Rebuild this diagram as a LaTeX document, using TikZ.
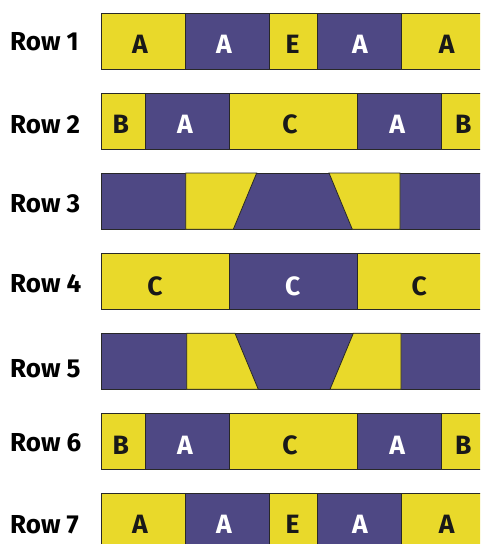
\documentclass[tikz,border=0pt]{standalone}
\usepackage{fontspec}
\newfontfamily\rowfont{Fira Sans}
\definecolor{yel}{RGB}{233,217,42}
\definecolor{pur}{RGB}{78,72,132}
\definecolor{edge}{RGB}{40,40,40}
\tikzset{
	yblk/.style={fill=yel, draw=edge, line width=0.8pt},
	pblk/.style={fill=pur, draw=edge, line width=0.8pt},
	rowlbl/.style={anchor=base west, inner sep=0pt, font=\rowfont\bfseries\fontsize{26}{27}\selectfont},
	dk/.style={anchor=base, inner sep=0pt, text=black!90, font=\rowfont\bfseries\fontsize{26.5}{27}\selectfont},
	lt/.style={dk, text=white}}

\begin{document}
\begin{tikzpicture}[x=1pt, y=-1pt]
		\useasboundingbox (0,0) rectangle (480,544);
		\clip (0,0) rectangle (480,544);
		
		% row labels
		\node[rowlbl] (l1) at (10,50) {Row 1};
		\node[rowlbl] (l2) at (10,133) {Row 2};
		\node[rowlbl] (l3) at (10,212) {Row 3};
		\node[rowlbl] (l4) at (10,292) {Row 4};
		\node[rowlbl] (l5) at (10,377) {Row 5};
		\node[rowlbl] (l6) at (10,451) {Row 6};
		\node[rowlbl] (l7) at (10,533) {Row 7};
		
		% row 1
		\draw[yblk] (101,13) rectangle (185,69);
		\draw[pblk] (185,13) rectangle (269.3,69);
		\draw[yblk] (269.3,13) rectangle (317.3,69);
		\draw[pblk] (317.3,13) rectangle (401.7,69);
		\draw[yblk] (401.7,13) rectangle (500,69);
		\node[dk] (r1a) at (140,53) {A};
		\node[lt] (r1b) at (224,53) {A};
		\node[dk] (r1c) at (292.7,53) {E};
		\node[lt] (r1d) at (360,53) {A};
		\node[dk] (r1e) at (446.7,53) {A};
		
		% row 2
		\draw[yblk] (101,93) rectangle (145,149);
		\draw[pblk] (145,93) rectangle (229.3,149);
		\draw[yblk] (229.3,93) rectangle (357.7,149);
		\draw[pblk] (357.7,93) rectangle (441.7,149);
		\draw[yblk] (441.7,93) rectangle (500,149);
		\node[dk] (r2a) at (120.7,133) {B};
		\node[lt] (r2b) at (185,133) {A};
		\node[dk] (r2c) at (290,133) {C};
		\node[lt] (r2d) at (397.3,133) {A};
		\node[dk] (r2e) at (463.3,133) {B};
		
		% row 3
		\draw[pblk] (101,173) rectangle (500,229.3);
		\draw[yblk] (185.7,173) -- (256.7,173) -- (233.3,229.3) -- (185.7,229.3) -- cycle;
		\draw[yblk] (329,173) -- (400,173) -- (400,229.3) -- (352.3,229.3) -- cycle;
		
		% row 4
		\draw[yblk] (101,253) rectangle (229,309.3);
		\draw[pblk] (229,253) rectangle (357.7,309.3);
		\draw[yblk] (357.7,253) rectangle (500,309.3);
		\node[dk] (r4a) at (155,295) {C};
		\node[lt] (r4b) at (292.7,295) {C};
		\node[dk] (r4c) at (419.3,295) {C};
		
		% row 5
		\draw[pblk] (101,333.3) rectangle (500,389.3);
		\draw[yblk] (186.7,333.3) -- (235,333.3) -- (258.3,389.3) -- (186.7,389.3) -- cycle;
		\draw[yblk] (353.3,333.3) -- (401,333.3) -- (401,389.3) -- (330,389.3) -- cycle;
		
		% row 6
		\draw[yblk] (101,413.3) rectangle (145,469.3);
		\draw[pblk] (145,413.3) rectangle (229.3,469.3);
		\draw[yblk] (229.3,413.3) rectangle (357.7,469.3);
		\draw[pblk] (357.7,413.3) rectangle (441.7,469.3);
		\draw[yblk] (441.7,413.3) rectangle (500,469.3);
		\node[dk] (r6a) at (120.7,454) {B};
		\node[lt] (r6b) at (185,454) {A};
		\node[dk] (r6c) at (290,454) {C};
		\node[lt] (r6d) at (397.3,454) {A};
		\node[dk] (r6e) at (463.3,454) {B};
		
		% row 7
		\draw[yblk] (101,493.3) rectangle (185,560);
		\draw[pblk] (185,493.3) rectangle (269.3,560);
		\draw[yblk] (269.3,493.3) rectangle (317.3,560);
		\draw[pblk] (317.3,493.3) rectangle (401.7,560);
		\draw[yblk] (401.7,493.3) rectangle (500,560);
		\node[dk] (r7a) at (140,533) {A};
		\node[lt] (r7b) at (224,533) {A};
		\node[dk] (r7c) at (292.7,533) {E};
		\node[lt] (r7d) at (360,533) {A};
		\node[dk] (r7e) at (446.7,533) {A};
		
	\end{tikzpicture}
\end{document}
